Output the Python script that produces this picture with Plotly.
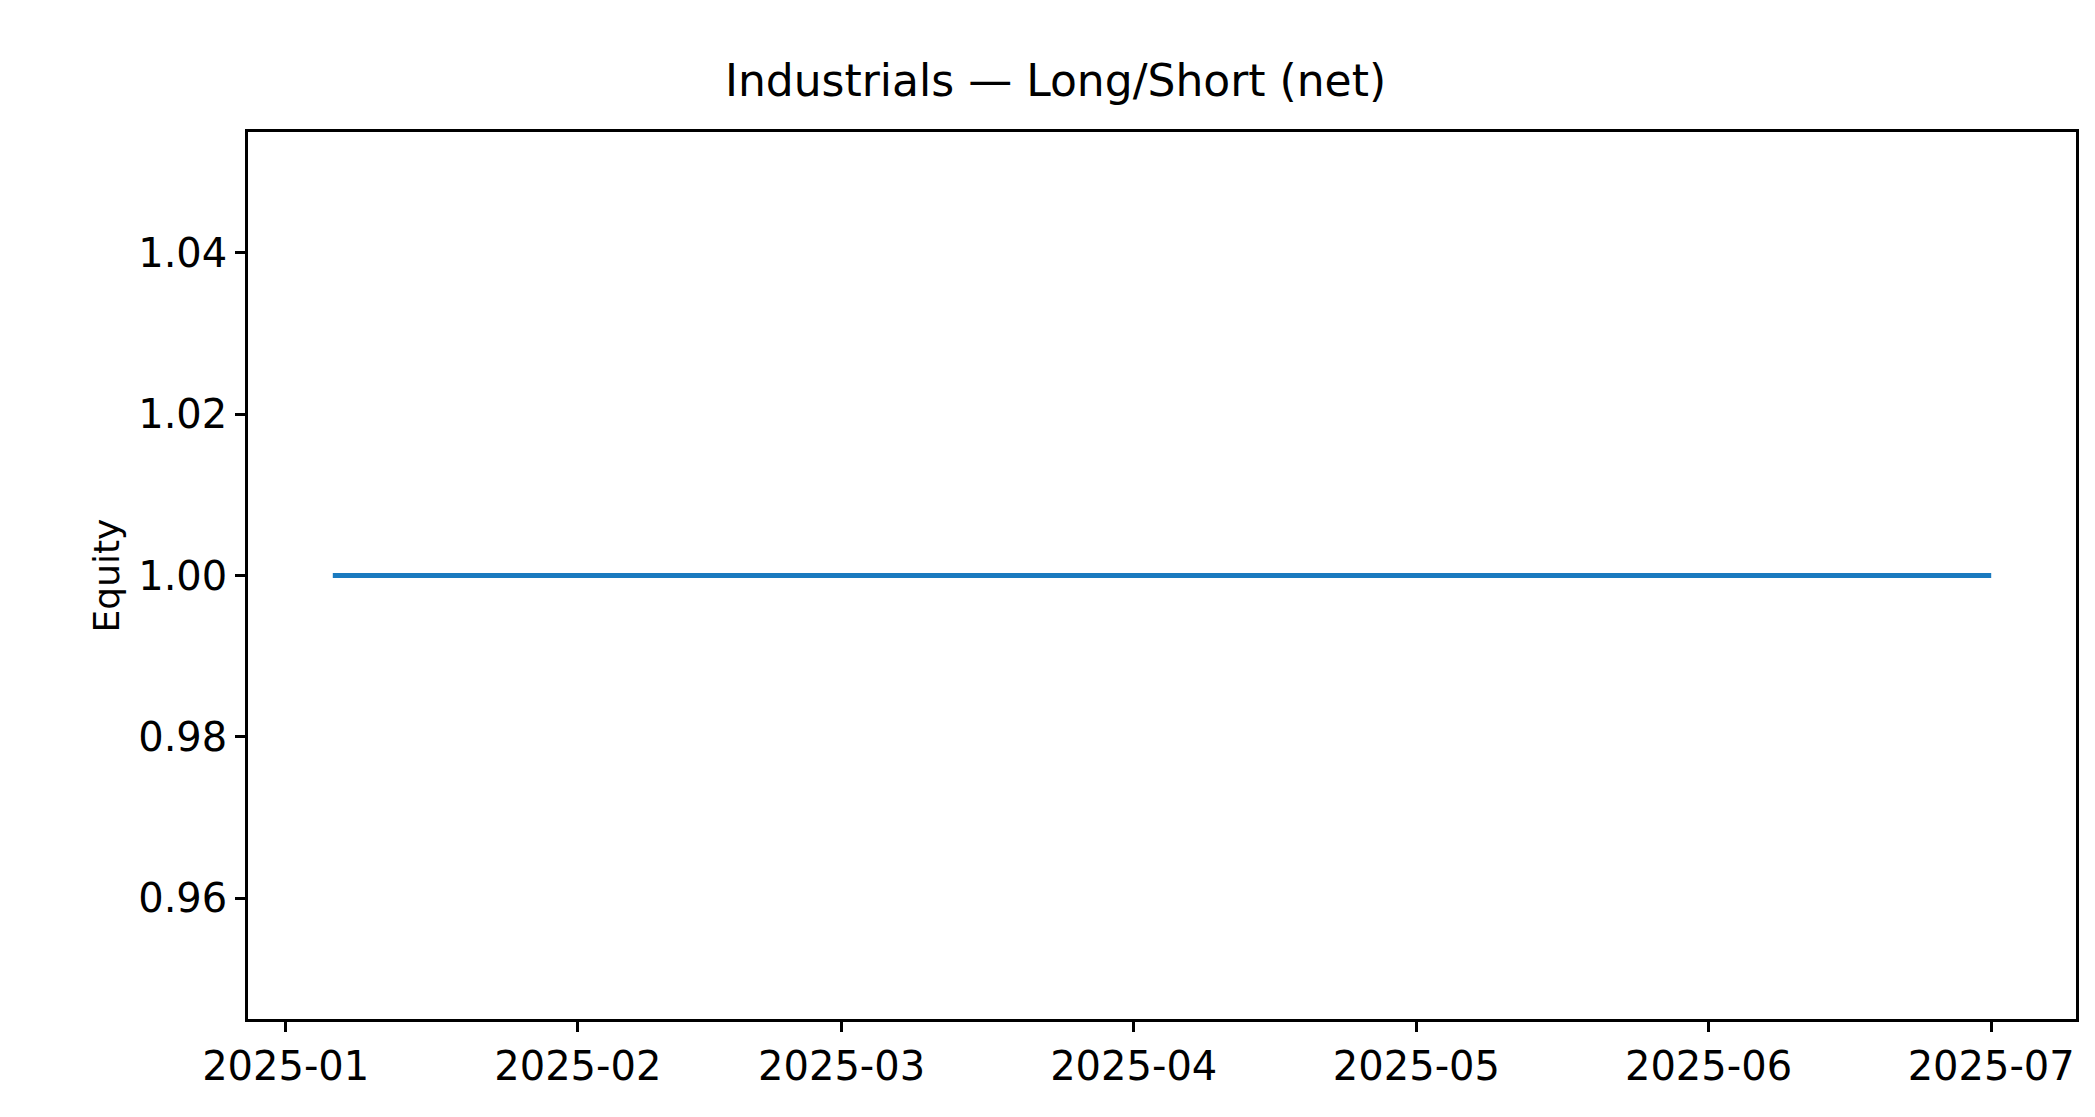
import plotly.graph_objects as go

dates = ["2025-01-06", "2025-07-01"]
equity = [1.0, 1.0]
xticks = ["2025-01-01", "2025-02-01", "2025-03-01", "2025-04-01", "2025-05-01", "2025-06-01", "2025-07-01"]
xticklabels = ["2025-01", "2025-02", "2025-03", "2025-04", "2025-05", "2025-06", "2025-07"]
yticks = [0.96, 0.98, 1.00, 1.02, 1.04]

fig = go.Figure(go.Scatter(x=dates, y=equity, mode="lines", line=dict(color="#1a7abf", width=5)))
ax = dict(showline=True, linecolor="black", linewidth=2.5, mirror=True, showgrid=False, zeroline=False,
          ticks="outside", ticklen=10, tickwidth=2.5, tickcolor="black")
fig.update_layout(
    width=2095, height=1117, plot_bgcolor="white", paper_bgcolor="white",
    font=dict(family="DejaVu Sans", size=40, color="black"),
    margin=dict(l=240, r=27, t=124, b=106),
    title=dict(text="Industrials — Long/Short (net)", x=0.5, xanchor="center", y=0.935, yanchor="middle",
               font=dict(size=44)),
    showlegend=False,
    xaxis=dict(**ax, range=["2024-12-28", "2025-07-10"], tickvals=xticks, ticktext=xticklabels),
    yaxis=dict(**ax, range=[0.945, 1.055], tickvals=yticks, ticktext=[f"{v:.2f}" for v in yticks],
               title=dict(text="Equity", standoff=8, font=dict(size=36))),
)
fig.write_html("out.html")
